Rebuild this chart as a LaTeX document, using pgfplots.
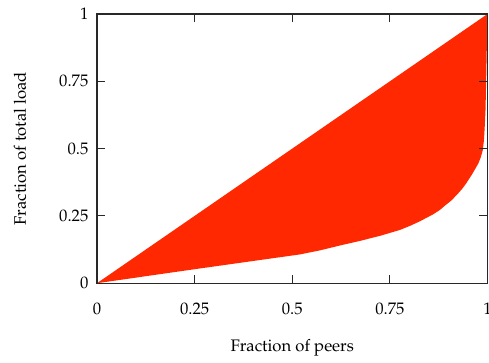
\documentclass[border=0pt]{standalone}
\usepackage[T1]{fontenc}
\usepackage{mathpazo}
\usepackage{pgfplots}
\pgfplotsset{compat=1.18}
\definecolor{fillred}{RGB}{255,40,0}
\definecolor{axisgray}{RGB}{40,40,40}
\begin{document}
\fontsize{12}{14}\selectfont
\begin{tikzpicture}
\useasboundingbox (-69.8pt,-56.9pt) rectangle (282.1pt,203.8pt);
\begin{axis}[
  scale only axis,
  width=281pt, height=193.7pt,
  xmin=0, xmax=1, ymin=0, ymax=1,
  xtick={0,0.25,0.5,0.75,1},
  ytick={0,0.25,0.5,0.75,1},
  xticklabels={0,0.25,0.5,0.75,1},
  yticklabels={0,0.25,0.5,0.75,1},
  tick align=inside,
  major tick length=6pt,
  tick style={axisgray, line width=0.8pt},
  axis line style={axisgray, line width=1pt},
  xticklabel style={yshift=-10pt},
  yticklabel style={xshift=-2pt},
  xlabel={Fraction of peers},
  ylabel={Fraction of total load},
  xlabel style={at={(axis description cs:0.5,-0.2416)}, anchor=center},
  ylabel style={at={(axis description cs:-0.197,0.5)}, anchor=center},
  axis on top,
]
\addplot[fill=fillred, draw=none] coordinates {
(0,0) (0.25,0.052) (0.52,0.107) (0.571,0.122) (0.622,0.140) (0.673,0.157)
(0.725,0.176) (0.776,0.198) (0.80,0.212) (0.827,0.230) (0.861,0.256) (0.878,0.272) (0.891,0.288)
(0.908,0.308) (0.924,0.332) (0.936,0.352) (0.946,0.372) (0.955,0.392) (0.962,0.408) (0.970,0.428) (0.977,0.446)
(0.983,0.468) (0.988,0.494) (0.991,0.532) (0.993,0.581) (0.995,0.643) (0.996,0.706) (0.997,0.78) (0.998,0.85) (0.999,0.93) (1,1) (0.5,0.5) (0,0)
} \closedcycle;
\end{axis}
\end{tikzpicture}
\end{document}
